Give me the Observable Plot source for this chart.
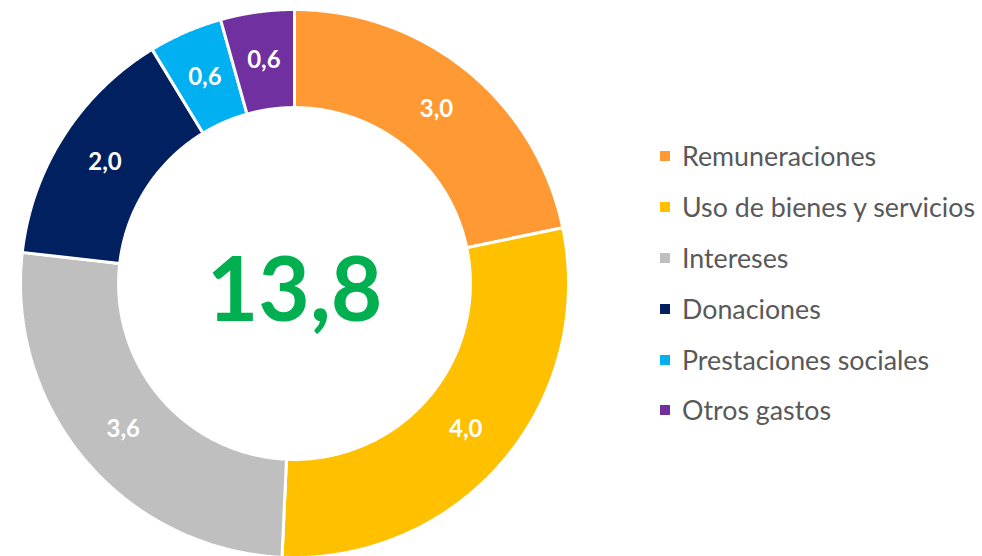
<!DOCTYPE html>
<html>
<head>
<meta charset="utf-8">
<script src="https://cdn.jsdelivr.net/npm/d3@7"></script>
<script src="https://cdn.jsdelivr.net/npm/@observablehq/plot@0.6"></script>
<style>
  html, body { margin: 0; padding: 0; background: #fff; }
  #wrap { position: relative; width: 982px; height: 556px; overflow: hidden; }
  #legend { position: absolute; left: 660px; top: 131px; font-family: Lato, "Open Sans", sans-serif; font-size: 26.8px; color: #595959; }
  .item { display: flex; align-items: center; height: 50.8px; white-space: nowrap; }
  .sw { width: 10px; height: 10px; margin-right: 12px; flex: none; }
</style>
</head>
<body>
<div id="wrap"><div id="chart"></div><div id="legend"></div></div>
<script>
const categories = ["Remuneraciones", "Uso de bienes y servicios", "Intereses", "Donaciones", "Prestaciones sociales", "Otros gastos"];
const values = [3.0, 4.0, 3.6, 2.0, 0.6, 0.6];
const colors = ["#FF9933", "#FFC000", "#BFBFBF", "#002060", "#00B0F0", "#7030A0"];
const totalLabel = "13,8";

const fmt = v => v.toFixed(1).replace(".", ",");
const data = categories.map((name, i) => ({name, value: values[i]}));
const arcs = d3.pie().sort(null).value(d => d.value).startAngle(0).endAngle(2 * Math.PI)(data);

const rOuter = 1, rInner = 0.642, rLabel = (rOuter + rInner) / 2;
const rows = [];
for (const a of arcs) {
  const n = 120;
  const pts = [];
  for (let k = 0; k <= n; k++) {
    const t = a.startAngle + (a.endAngle - a.startAngle) * k / n;
    pts.push({name: a.data.name, x: rOuter * Math.sin(t), y: rOuter * Math.cos(t)});
  }
  for (let k = n; k >= 0; k--) {
    const t = a.startAngle + (a.endAngle - a.startAngle) * k / n;
    pts.push({name: a.data.name, x: rInner * Math.sin(t), y: rInner * Math.cos(t)});
  }
  pts.push({...pts[0]});
  rows.push(...pts);
}
const labels = arcs.map(a => {
  const m = (a.startAngle + a.endAngle) / 2;
  return {name: a.data.name, x: rLabel * Math.sin(m), y: rLabel * Math.cos(m), text: fmt(a.data.value)};
});

const chart = Plot.plot({
  width: 982,
  height: 556,
  margin: 0,
  x: {domain: [-1, 1], range: [20, 568], axis: null},
  y: {domain: [-1, 1], range: [557, 9], axis: null},
  color: {domain: categories, range: colors},
  style: {background: "white"},
  marks: [
    Plot.line(rows, {x: "x", y: "y", z: "name", fill: "name", stroke: "white", strokeWidth: 3, strokeLinejoin: "miter"}),
    Plot.text(labels, {x: "x", y: "y", text: "text", fill: "white", fontSize: 24, fontWeight: "bold", fontFamily: "Lato, 'Open Sans', sans-serif"}),
    Plot.text([{x: 0, y: 0, t: totalLabel}], {x: "x", y: "y", text: "t", fill: "#00B050", fontSize: 89, fontWeight: "bold", fontFamily: "Lato, 'Open Sans', sans-serif", dy: 9})
  ]
});
document.getElementById("chart").appendChild(chart);

const legend = document.getElementById("legend");
categories.forEach((c, i) => {
  const it = document.createElement("div");
  it.className = "item";
  const sw = document.createElement("span");
  sw.className = "sw";
  sw.style.background = colors[i];
  const tx = document.createElement("span");
  tx.textContent = c;
  it.appendChild(sw);
  it.appendChild(tx);
  legend.appendChild(it);
});
</script>
</body>
</html>
